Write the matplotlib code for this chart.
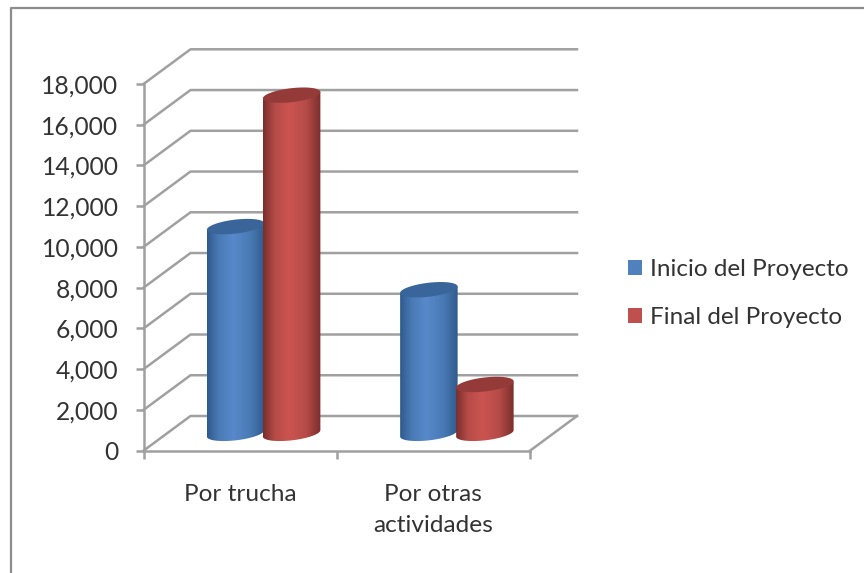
import matplotlib
matplotlib.use("Agg")
import matplotlib.pyplot as plt
import numpy as np
from matplotlib.colors import LinearSegmentedColormap
from matplotlib.patches import Polygon, Rectangle

# Values
categories = ["Por trucha", "Por otras\nactividades"]
series_names = ["Inicio del Proyecto", "Final del Proyecto"]
inicio = [10150, 7050]
final = [16600, 2400]
y_ticks = list(range(0, 18001, 2000))

W, H = 864, 573
GRID = "#a0a0a0"
TEXT = "#333333"
LW = 1.8
plt.rcParams["font.family"] = ["Lato", "DejaVu Sans"]

fig = plt.figure(figsize=(W / 100, H / 100), dpi=100)
fig.patch.set_facecolor("white")

# front plane of the fake 3d box, in pixels
left, right, top, bottom = 143.5, 530.0, 84.0, 450.7
ax = fig.add_axes([left / W, 1 - bottom / H, (right - left) / W, (bottom - top) / H])
ax.patch.set_visible(False)

px_x = 2.0 / (right - left)      # data units per pixel
px_y = 18000.0 / (bottom - top)
depth_x = 47.0 * px_x
depth_y = 34.7 * px_y


def wall_lines():
    for v in y_ticks:
        ax.plot([0, depth_x, 2 + depth_x], [v, v + depth_y, v + depth_y],
                color=GRID, lw=LW, clip_on=False, zorder=1)
    ax.plot([2, 2 + depth_x], [0, depth_y], color=GRID, lw=LW, clip_on=False, zorder=1)


def cylinder(cx, width, value, dark, mid, light, top_col):
    # centre of the bar sits half way into the depth of the box
    x0 = cx + depth_x / 2
    y0 = depth_y / 2
    hw = width / 2
    rise = 3.2 * px_y
    minor = 7.0 * px_y
    t = np.linspace(0, 2 * np.pi, 80)
    ex = hw * np.cos(t)
    ey = minor * np.sin(t) + rise * np.cos(t)

    # body outline: lower half of base ellipse then upper half of top one
    low = np.pi <= t
    xs = np.r_[x0 + ex[low], x0 + hw, x0 - hw]
    ys = np.r_[y0 + ey[low], y0 + value + rise, y0 + value - rise]
    body = Polygon(np.c_[xs, ys], closed=True, transform=ax.transData, fc="none", ec="none")
    ax.add_patch(body)

    cmap = LinearSegmentedColormap.from_list(
        "cyl", [(0, dark), (0.2, mid), (0.45, light), (0.75, mid), (1, dark)])
    grad = np.linspace(0, 1, 128).reshape(1, -1)
    im = ax.imshow(grad, cmap=cmap, aspect="auto", zorder=cx + 3,
                   extent=[x0 - hw, x0 + hw, y0 - 2 * minor, y0 + value + 2 * minor])
    im.set_clip_path(body)

    cap = Polygon(np.c_[x0 + ex, y0 + value + ey], closed=True, fc=top_col, ec="none",
                  zorder=cx + 3.1, clip_on=False)
    ax.add_patch(cap)


wall_lines()

bar_w = 57.5 * px_x
shift = 28.0 * px_x   # the two cylinders overlap a little
colors = [("#2f5a8c", "#4a7ab5", "#5789cb", "#39659a"),
          ("#7a2e2c", "#b54b48", "#cc5450", "#943b39")]
for i in range(len(categories)):
    cylinder(i + 0.5 - shift, bar_w, inicio[i], *colors[0])
    cylinder(i + 0.5 + shift, bar_w, final[i], *colors[1])

ax.set_xlim(0, 2)
ax.set_ylim(0, 18000)
ax.set_yticks(y_ticks)
ax.set_yticklabels([f"{v:,}" for v in y_ticks])
ax.set_xticks([0, 1, 2])
ax.set_xticklabels([])
ax.xaxis.set_ticks_position("bottom")
for s in ["top", "right"]:
    ax.spines[s].set_visible(False)
for s in ["left", "bottom"]:
    ax.spines[s].set_color(GRID)
    ax.spines[s].set_linewidth(LW)
ax.tick_params(axis="y", length=6, width=LW, color=GRID, labelsize=17.7, labelcolor=TEXT, pad=12)
ax.tick_params(axis="x", length=6, width=LW, color=GRID)

# category names under the axis
for i, name in enumerate(categories):
    ax.text(i + 0.5, -33 * px_y, name, ha="center", va="top", fontsize=17.6, color=TEXT,
            linespacing=1.62, clip_on=False)

# legend drawn as real handles
handles = [Rectangle((0, 0), 1, 1, fc="#4f81bd"), Rectangle((0, 0), 1, 1, fc="#c0504d")]
fig.legend(handles, series_names, loc="center left", bbox_to_anchor=(628 / W, 1 - 293.5 / H),
           frameon=False, fontsize=17.5, labelcolor=TEXT, handlelength=0.58, handleheight=0.58,
           handletextpad=0.33, labelspacing=1.1, borderpad=0, borderaxespad=0)

# outer chart frame, cut by the image on the right and bottom
fig.add_artist(plt.Line2D([10.5 / W, 10.5 / W, 1.0], [0, 1 - 7.5 / H, 1 - 7.5 / H],
                          color="#8c8c8c", lw=1.6))

fig.savefig("out.png", dpi=100)
